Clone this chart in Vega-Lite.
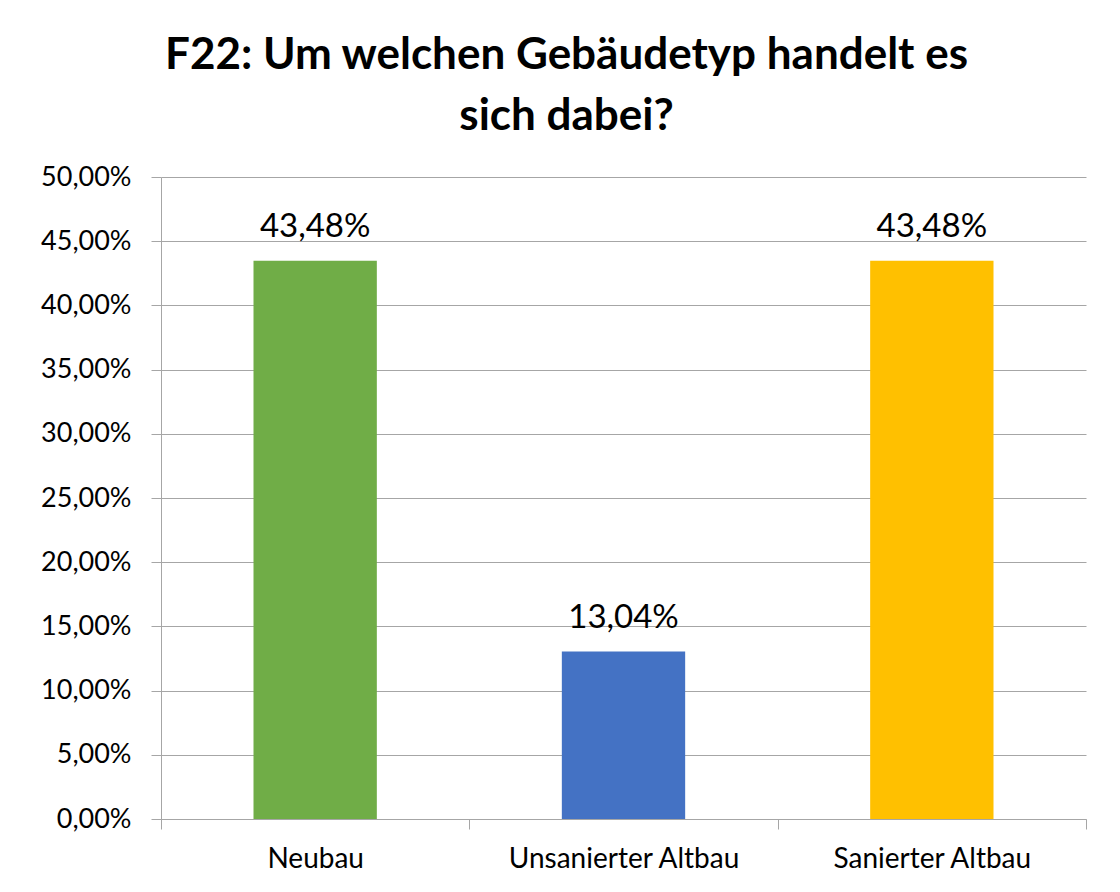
{
  "$schema": "https://vega.github.io/schema/vega-lite/v6.json",
  "width": 925,
  "height": 642,
  "autosize": {"type": "none"},
  "padding": {"left": 161, "top": 177, "right": 34, "bottom": 73},
  "background": "white",
  "title": {
    "text": ["F22: Um welchen Gebäudetyp handelt es", "sich dabei?"],
    "font": "Lato",
    "fontSize": 44,
    "fontWeight": "bold",
    "color": "#000000",
    "lineHeight": 61,
    "anchor": "middle",
    "frame": "group",
    "dx": -57,
    "offset": 24
  },
  "data": {
    "values": [
      {"typ": "Neubau", "anteil": 0.4348},
      {"typ": "Unsanierter Altbau", "anteil": 0.1304},
      {"typ": "Sanierter Altbau", "anteil": 0.4348}
    ]
  },
  "encoding": {
    "x": {
      "field": "typ",
      "type": "nominal",
      "sort": null,
      "scale": {"paddingInner": 0, "paddingOuter": 0},
      "axis": {
        "title": null,
        "labelAngle": 0,
        "labelLimit": 0,
        "tickBand": "extent",
        "tickSize": 10,
        "tickColor": "#a6a6a6",
        "domainColor": "#a6a6a6",
        "labelFont": "Lato",
        "labelFontSize": 28,
        "labelColor": "#000000",
        "labelPadding": 16
      }
    },
    "y": {
      "field": "anteil",
      "type": "quantitative",
      "scale": {"domain": [0, 0.5]},
      "axis": {
        "title": null,
        "values": [0, 0.05, 0.1, 0.15, 0.2, 0.25, 0.3, 0.35, 0.4, 0.45, 0.5],
        "format": ".2%",
        "grid": true,
        "gridColor": "#a6a6a6",
        "domainColor": "#a6a6a6",
        "tickColor": "#a6a6a6",
        "tickSize": 10,
        "labelFont": "Lato",
        "labelFontSize": 27,
        "labelColor": "#000000",
        "labelPadding": 20
      }
    }
  },
  "layer": [
    {
      "mark": {"type": "bar", "width": {"band": 0.4}},
      "encoding": {
        "color": {
          "field": "typ",
          "type": "nominal",
          "scale": {
            "domain": ["Neubau", "Unsanierter Altbau", "Sanierter Altbau"],
            "range": ["#70AD47", "#4472C4", "#FFC000"]
          },
          "legend": null
        }
      }
    },
    {
      "mark": {
        "type": "text",
        "baseline": "alphabetic",
        "dy": -24,
        "font": "Lato",
        "fontSize": 33,
        "color": "#000000"
      },
      "encoding": {
        "text": {"field": "anteil", "type": "quantitative", "format": ".2%"}
      }
    }
  ],
  "config": {
    "view": {"stroke": null},
    "locale": {
      "number": {
        "decimal": ",",
        "thousands": ".",
        "grouping": [3],
        "currency": ["", " €"]
      }
    }
  }
}
